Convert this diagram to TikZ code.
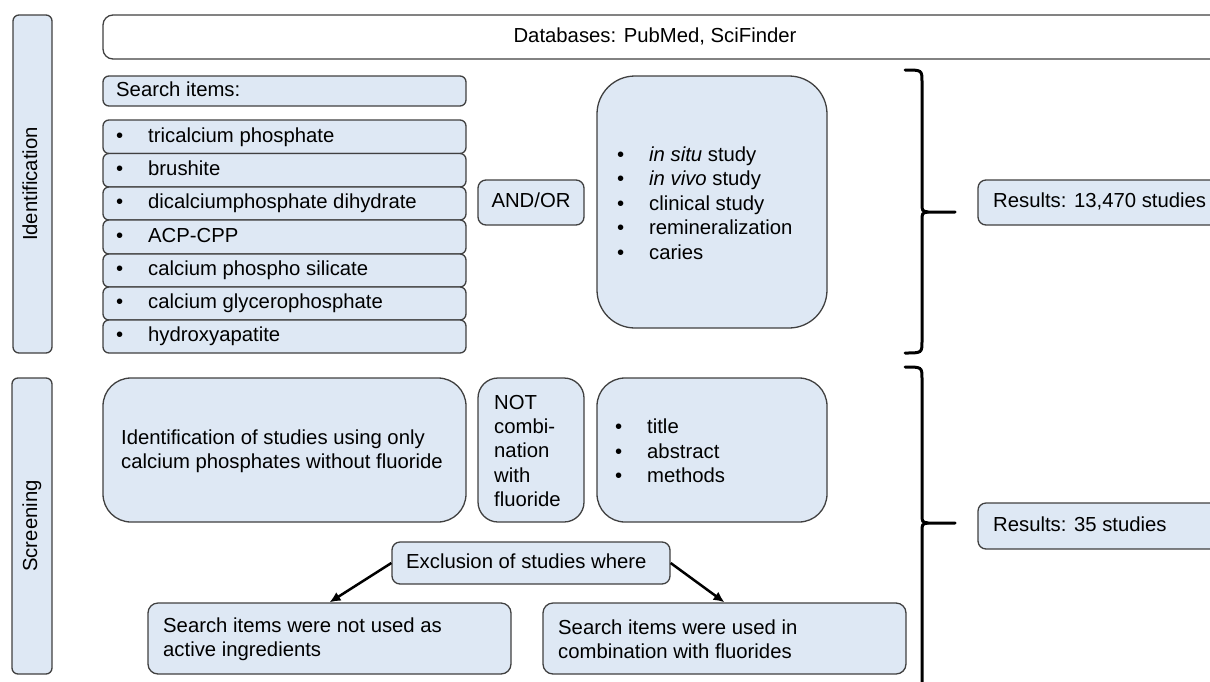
\documentclass[tikz,border=0pt]{standalone}
\usepackage{fontspec}
\setmainfont{Liberation Sans}
\usetikzlibrary{fit,arrows.meta}
\definecolor{boxc}{RGB}{222,232,244}
\definecolor{bordc}{RGB}{64,64,64}
\newcommand\myfs{\fontsize{20.3}{24.4}\selectfont}
\newcommand\bul{\makebox[32pt][l]{\textbullet}}
\newcommand\mybox[6]{\node[bx, rounded corners=#6pt, fit={(#2,#3) (#4,#5)}] (#1) {};}
\tikzset{
  bx/.style={draw=bordc, fill=boxc, line width=1.3pt, inner sep=0pt},
  txt/.style={font=\myfs, inner sep=0pt, anchor=west, text height=14.6pt, text depth=4.2pt},
  mtxt/.style={font=\myfs, inner sep=0pt, anchor=west, align=left},
  bracestyle/.style={line width=3pt, black, line cap=round},
  arr/.style={line width=2.5pt, black, -{Latex[length=11pt,width=10pt]}, shorten >=0pt}
}
\begin{document}
\begin{tikzpicture}[x=1pt,y=-1pt]
\useasboundingbox (0,0) rectangle (1210,681);
\clip (0,0) rectangle (1210,681);
% side labels
\mybox{idlab}{13}{15}{52}{353}{6}
\node[txt, anchor=center, rotate=90] (idlabt) at (32,184) {Identification};
\mybox{sclab}{12}{378}{52}{674}{6}
\node[txt, anchor=center, rotate=90] (sclabt) at (32,526) {Screening};
% databases
\node[bx, fill=white, rounded corners=10pt, fit={(103,15) (1230,59)}] (db) {};
\node[txt, anchor=center] (dbt) at (655,37) {Databases: PubMed, SciFinder};
% search items
\mybox{si}{103}{76}{466}{106}{6}
\node[txt] (sit) at (116,91) {Search items:};
\mybox{i1}{103}{120}{466}{153.5}{6}
\mybox{i2}{103}{153.5}{466}{187}{6}
\mybox{i3}{103}{187}{466}{220}{6}
\mybox{i4}{103}{220}{466}{254}{6}
\mybox{i5}{103}{254}{466}{287}{6}
\mybox{i6}{103}{287}{466}{320}{6}
\mybox{i7}{103}{320}{466}{353}{6}
\node[txt] (i1t) at (116,137) {\bul tricalcium phosphate};
\node[txt] (i2t) at (116,170) {\bul brushite};
\node[txt] (i3t) at (116,203.5) {\bul dicalciumphosphate dihydrate};
\node[txt] (i4t) at (116,237) {\bul ACP-CPP};
\node[txt] (i5t) at (116,270.5) {\bul calcium phospho silicate};
\node[txt] (i6t) at (116,303.5) {\bul calcium glycerophosphate};
\node[txt] (i7t) at (116,336.5) {\bul hydroxyapatite};
% AND/OR
\mybox{andor}{478}{180}{584}{225}{8}
\node[txt, anchor=center] (andort) at (531,202.5) {AND/OR};
% study types
\mybox{st}{597}{76}{827}{328}{38}
\node[mtxt] (stt) at (617,203) {\bul\textit{in situ} study\\\bul\textit{in vivo} study\\\bul clinical study\\\bul remineralization\\\bul caries};
% brace 1
\draw[bracestyle] (905,70) .. controls (922,70) .. (922,82) -- (922,203) .. controls (922,211) .. (928,212) -- (955,212);
\draw[bracestyle] (905,353) .. controls (922,353) .. (922,341) -- (922,221) .. controls (922,213) .. (928,212);
% results 1
\node[bx, rounded corners=8pt, fit={(978,180) (1230,225)}] (r1) {};
\node[txt] (r1t) at (993,202.5) {Results: 13,470 studies};
% screening
\mybox{idst}{103}{378}{466}{522}{28}
\node[mtxt] (idstt) at (121,451) {Identification of studies using only\\calcium phosphates without fluoride};
\mybox{notb}{478}{378}{584}{522}{20}
\node[mtxt] (notbt) at (494,451) {NOT\\combi-\\nation\\with\\fluoride};
\mybox{tam}{597}{378}{827}{522}{28}
\node[mtxt] (tamt) at (615,451) {\bul title\\\bul abstract\\\bul methods};
\mybox{excl}{392}{542}{670}{584}{8}
\node[txt] (exclt) at (406,563) {Exclusion of studies where};
\mybox{notused}{148}{603}{511}{674}{10}
\node[mtxt] (notusedt) at (163,639) {Search items were not used as\\active ingredients};
\mybox{comb}{543}{603}{906}{674}{10}
\node[mtxt] (combt) at (558,639) {Search items were used in\\combination with fluorides};
\draw[arr] (excl.west) -- (notused.north);
\draw[arr] (excl.east) -- (comb.north);
% brace 2
\draw[bracestyle] (905,367) .. controls (922,367) .. (922,379) -- (922,514) .. controls (922,522) .. (928,523) -- (955,523);
\draw[bracestyle] (905,700) .. controls (922,700) .. (922,688) -- (922,532) .. controls (922,524) .. (928,523);
% results 2
\node[bx, rounded corners=8pt, fit={(978,503) (1230,549)}] (r2) {};
\node[txt] (r2t) at (993,526) {Results: 35 studies};
\end{tikzpicture}
\end{document}
